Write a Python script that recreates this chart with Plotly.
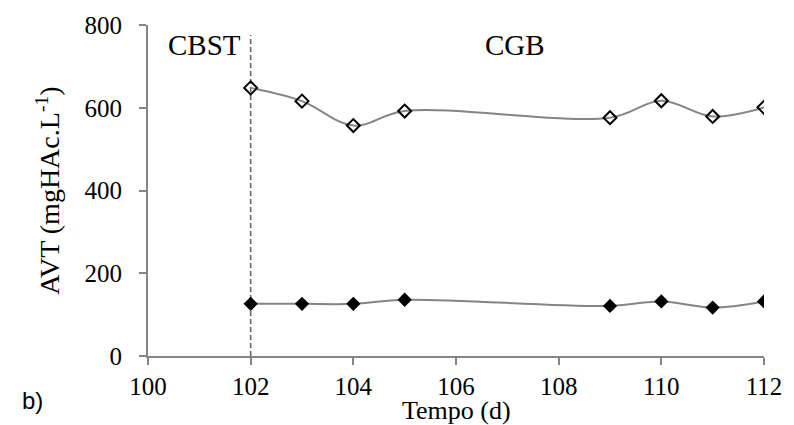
import plotly.graph_objects as go

# Sampling days and volatile fatty acids (AVT) for the two series
dias = [102, 103, 104, 105, 109, 110, 111, 112]
avt_aberto = [648, 616, 557, 592, 576, 617, 579, 601]
avt_cheio = [126, 126, 126, 136, 121, 132, 117, 132]

x_ticks = [100, 102, 104, 106, 108, 110, 112]
y_ticks = [0, 200, 400, 600, 800]

# Phase boundary and phase labels
dia_troca = 102
fases = [("CBST", 101.1), ("CGB", 107.15)]

W, H = 794, 425
M = dict(l=148, r=23, t=23, b=69)
pw = W - M["l"] - M["r"]
ph = H - M["t"] - M["b"]

serif = "Times New Roman"
cinza = "#858585"

fig = go.Figure()

fig.add_trace(go.Scatter(
    x=dias, y=avt_aberto, mode="lines+markers",
    line=dict(color=cinza, width=2, shape="spline"),
    marker=dict(symbol="diamond-open", size=10, color="black",
                line=dict(color="black", width=2)),
    showlegend=False, hoverinfo="skip"))

fig.add_trace(go.Scatter(
    x=dias, y=avt_cheio, mode="lines+markers",
    line=dict(color=cinza, width=2, shape="spline"),
    marker=dict(symbol="diamond", size=11, color="black",
                line=dict(color="black", width=0)),
    showlegend=False, hoverinfo="skip"))

# Dashed separator between the two phases
fig.add_shape(type="line", xref="x", yref="y", x0=dia_troca, x1=dia_troca,
              y0=0, y1=776, layer="below",
              line=dict(color="#666666", width=1.6, dash="5px,3px"))

for nome, xp in fases:
    fig.add_annotation(x=xp, y=752, xref="x", yref="y", text=nome,
                       showarrow=False, font=dict(family=serif, size=29, color="black"))

def px_x(p):
    return (p - M["l"]) / pw

def px_y(p):
    return (H - M["b"] - p) / ph

fig.add_annotation(x=px_x(47), y=0.5, xref="paper", yref="paper",
                   text="AVT (mgHAc.L<sup>-1</sup>)", textangle=-90,
                   showarrow=False, xanchor="center", yanchor="middle",
                   font=dict(family=serif, size=28, color="black"))
fig.add_annotation(x=px_x(460), y=px_y(411), xref="paper", yref="paper",
                   text="Tempo (d)", showarrow=False,
                   xanchor="center", yanchor="middle",
                   font=dict(family=serif, size=26, color="black"))
fig.add_annotation(x=px_x(31), y=px_y(401), xref="paper", yref="paper",
                   text="b)", showarrow=False,
                   xanchor="center", yanchor="middle",
                   font=dict(family="Arial", size=24, color="black"))

def eixo(**extra):
    d = dict(showgrid=False, zeroline=False, showline=True,
             linecolor=cinza, linewidth=2, ticks="outside",
             ticklen=7, tickwidth=2, tickcolor=cinza)
    d.update(extra)
    return d

fig.update_layout(
    width=W, height=H, margin=M,
    paper_bgcolor="white", plot_bgcolor="white",
    font=dict(family=serif, size=25, color="black"),
    xaxis=eixo(range=[100, 112], tickmode="array", tickvals=x_ticks,
               ticktext=[str(v) for v in x_ticks], ticklabelstandoff=0),
    yaxis=eixo(range=[0, 800], tickmode="array", tickvals=y_ticks,
               ticktext=[str(v) for v in y_ticks], ticklabelstandoff=12),
)
fig.update_xaxes(tickfont_family=serif, tickfont_size=25, tickfont_color="black")
fig.update_yaxes(tickfont_family=serif, tickfont_size=25, tickfont_color="black")

fig.write_html("out.html")
